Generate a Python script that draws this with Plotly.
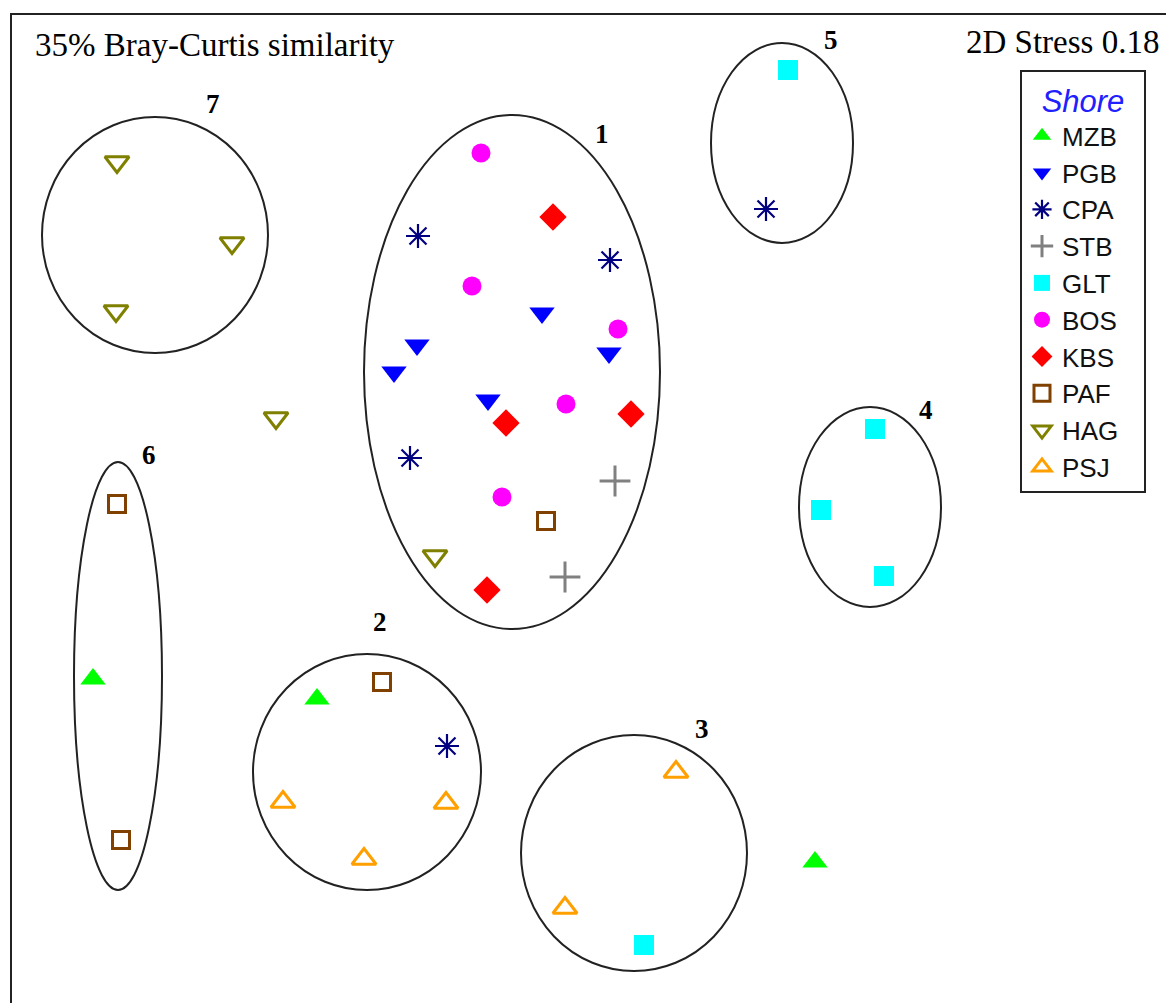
import plotly.graph_objects as go

# NMDS ordination coordinates (arbitrary units, y grows downward)
MZB_x = [93, 317, 815]
MZB_y = [679, 699, 862]
PGB_x = [542, 417, 609, 394, 488]
PGB_y = [313, 345, 353, 372, 400]
CPA_x = [418, 610, 410, 447, 766]
CPA_y = [236, 260, 458, 746, 209]
STB_x = [615, 565]
STB_y = [481, 577]
GLT_x = [788, 875, 821, 884, 644]
GLT_y = [70, 429, 510, 576, 945]
BOS_x = [481, 472, 618, 566, 502]
BOS_y = [153, 286, 329, 404, 497]
KBS_x = [553, 506, 631, 487]
KBS_y = [217, 423, 414, 590]
PAF_x = [546, 382, 117, 121]
PAF_y = [521, 682, 504, 840]
HAG_x = [117, 232, 116, 276, 435]
HAG_y = [162, 243, 311, 418, 556]
PSJ_x = [283, 446, 364, 676, 565]
PSJ_y = [802, 803, 859, 772, 908]

# 35% similarity clusters: label, centre and semi-axes
cluster_names = ["1", "2", "3", "4", "5", "6", "7"]
cluster_cx = [512, 367, 634, 870, 782, 118, 155]
cluster_cy = [372, 772, 853, 507, 143, 676, 235]
cluster_rx = [148, 114, 113, 71, 71, 44, 113]
cluster_ry = [257, 118, 118, 100, 100, 214, 118]
label_x = [602, 380, 702, 926, 831, 149, 213]
label_y = [134, 622, 729, 410, 40, 455, 104]

stress = 0.18
similarity = 35

W, H = 1166, 1003

series = [
    ("MZB", MZB_x, MZB_y, "triangle-up", "#00FF00", 0),
    ("PGB", PGB_x, PGB_y, "triangle-down", "#0000FF", 0),
    ("CPA", CPA_x, CPA_y, "asterisk-open", "#000080", 2.2),
    ("STB", STB_x, STB_y, "cross-thin-open", "#808080", 3),
    ("GLT", GLT_x, GLT_y, "square", "#00FFFF", 0),
    ("BOS", BOS_x, BOS_y, "circle", "#FF00FF", 0),
    ("KBS", KBS_x, KBS_y, "diamond", "#FF0000", 0),
    ("PAF", PAF_x, PAF_y, "square-open", "#804000", 3),
    ("HAG", HAG_x, HAG_y, "triangle-down-open", "#808000", 3),
    ("PSJ", PSJ_x, PSJ_y, "triangle-up-open", "#FFA000", 3),
]
sizes = {"MZB": 22, "PGB": 22, "CPA": 20, "STB": 22, "GLT": 20,
         "BOS": 19, "KBS": 21, "PAF": 17, "HAG": 21, "PSJ": 21}

fig = go.Figure()
for name, xs, ys, sym, col, lw in series:
    fig.add_trace(go.Scatter(
        x=xs, y=ys, mode="markers", name=name,
        marker=dict(symbol=sym, color=col, size=sizes[name],
                    line=dict(width=lw, color=col)),
    ))

shapes = [dict(type="rect", xref="x", yref="y", x0=11, y0=14, x1=W + 10, y1=H + 10,
               line=dict(color="#222222", width=2), layer="below")]
for cx, cy, rx, ry in zip(cluster_cx, cluster_cy, cluster_rx, cluster_ry):
    shapes.append(dict(type="circle", xref="x", yref="y",
                       x0=cx - rx, x1=cx + rx, y0=cy - ry, y1=cy + ry,
                       line=dict(color="#222222", width=2), layer="below"))

serif = "Liberation Serif"
annotations = []
for name, lx, ly in zip(cluster_names, label_x, label_y):
    annotations.append(dict(x=lx, y=ly, xref="x", yref="y", text=f"<b>{name}</b>",
                            showarrow=False, font=dict(family=serif, size=27, color="black")))
annotations.append(dict(x=33, y=45, xref="x", yref="y", xanchor="left",
                        text=f"{similarity}% Bray-Curtis similarity", showarrow=False,
                        font=dict(family=serif, size=33, color="black")))
annotations.append(dict(x=1161, y=42, xref="x", yref="y", xanchor="right",
                        text=f"2D Stress {stress:.2f}", showarrow=False,
                        font=dict(family=serif, size=33, color="black")))

# the legend box is a little wider than its entries; pad the title with spaces
pad = "&nbsp;" * 2

fig.update_layout(
    width=W, height=H,
    margin=dict(l=0, r=0, t=0, b=0),
    paper_bgcolor="white", plot_bgcolor="white",
    xaxis=dict(range=[0, W], visible=False, fixedrange=True),
    yaxis=dict(range=[H, 0], visible=False, fixedrange=True),
    shapes=shapes,
    annotations=annotations,
    showlegend=True,
    legend=dict(
        x=1020 / W, y=1 - 70 / H, xanchor="left", yanchor="top",
        bgcolor="white", bordercolor="#222222", borderwidth=2,
        font=dict(family="Liberation Sans", size=26, color="#111111"),
        title=dict(text=f"{pad}Shore{pad}", side="top center",
                   font=dict(family="Liberation Sans", size=31, color="#2020FF", style="italic")),
        itemsizing="trace",
    ),
)

fig.write_html("out.html")
